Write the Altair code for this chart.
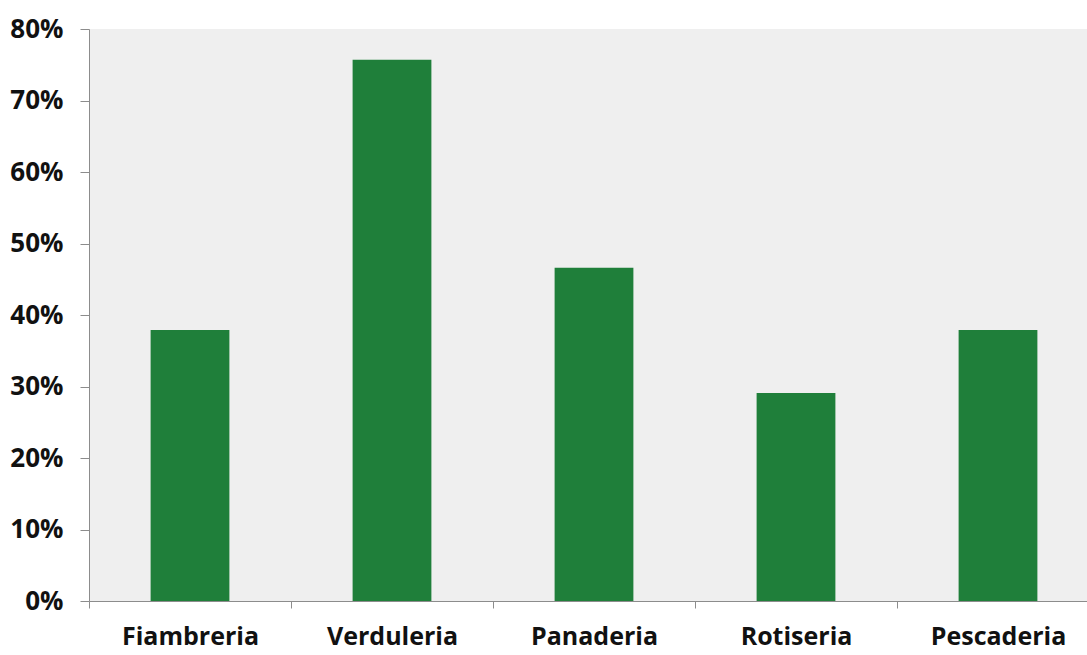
import altair as alt
import pandas as pd

# Share of respondents per type of shop
categories = ["Fiambreria", "Verduleria", "Panaderia", "Rotiseria", "Pescaderia"]
shares = [0.379, 0.757, 0.466, 0.291, 0.379]

df = pd.DataFrame({"tipo": categories, "valor": shares})

axis_gray = "#8c8c8c"
label_font = "Open Sans"

bars = alt.Chart(df).mark_bar(
    color="#1f7f3a",
    width=alt.RelativeBandSize(0.39),
).encode(
    x=alt.X(
        "tipo:N",
        sort=categories,
        scale=alt.Scale(paddingInner=0, paddingOuter=0, range=[0, 1010]),
        axis=alt.Axis(
            title=None,
            labelAngle=0,
            labelFont=label_font,
            labelFontSize=25,
            labelFontWeight="bold",
            labelColor="#111111",
            labelPadding=16,
            tickBand="extent",
            tickSize=7,
            tickColor=axis_gray,
            domainColor=axis_gray,
            grid=False,
        ),
    ),
    y=alt.Y(
        "valor:Q",
        scale=alt.Scale(domain=[0, 0.8], nice=False),
        axis=alt.Axis(
            title=None,
            format=".0%",
            values=[0, 0.1, 0.2, 0.3, 0.4, 0.5, 0.6, 0.7, 0.8],
            labelFont=label_font,
            labelFontSize=26,
            labelFontWeight="bold",
            labelColor="#111111",
            labelPadding=17,
            tickSize=9,
            tickColor=axis_gray,
            domainColor=axis_gray,
            grid=False,
        ),
    ),
)

chart = bars.properties(
    width=998,
    height=572,
    autosize=alt.AutoSizeParams(type="none"),
    padding={"left": 89, "top": 29, "right": 0, "bottom": 54},
    background="white",
).configure_view(
    fill="#efefef",
    stroke=None,
)

chart.save("out.html", embed_options={"renderer": "svg", "actions": False})
